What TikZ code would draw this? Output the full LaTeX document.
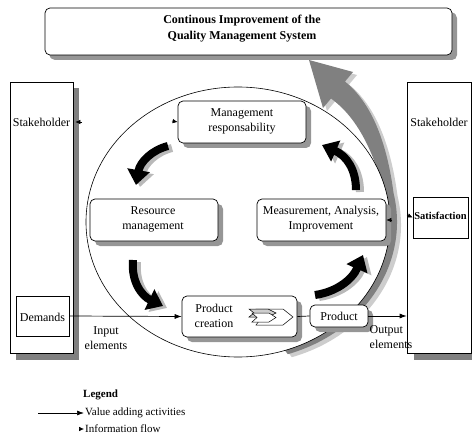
\documentclass[tikz,border=0pt]{standalone}
\usepackage{fontspec}
\setmainfont{Liberation Serif}
\usetikzlibrary{arrows.meta,shadows}

\definecolor{shade}{RGB}{150,150,150}
\definecolor{darkshade}{RGB}{128,128,128}
\definecolor{bandgray}{RGB}{128,128,128}
\definecolor{bandlight}{RGB}{205,205,205}
\definecolor{cycshade}{RGB}{185,185,185}

\begin{document}
\begin{tikzpicture}[x=1pt,y=-1pt,
  txt/.style={font=\fontsize{12}{15}\selectfont, align=center, inner sep=1pt},
  rbox/.style={draw, fill=white, rounded corners=5pt, line width=0.7pt, inner sep=0pt,
    general shadow={fill=shade, shadow xshift=5pt, shadow yshift=-5pt}},
  sbox/.style={draw, fill=white, line width=0.7pt, inner sep=0pt},
  value/.style={-{Latex[length=7pt,width=5pt]}, line width=0.7pt},
  info/.style={-{Latex[length=5pt,width=4.5pt]}, line width=0.6pt},
  cyc/.style={line width=8pt, -{Triangle[width=22pt,length=15pt]}},
  chev/.style={draw, line width=0.5pt, line join=miter},
  bandpath/.style={insert path={
    ({238+152*cos(72)},{222+135*sin(72)})
    arc[start angle=72, end angle=-25, x radius=152, y radius=135]
    .. controls (365,135) and (350,112) .. (331,98.5)
    -- (323,108) -- (309,60) -- (353,72) -- (345,81.5)
    .. controls (368,100) and (386,135) .. ({239+158*cos(-12)},{222+139*sin(-12)})
    arc[start angle=-12, end angle=72, x radius=158, y radius=139] -- cycle}}
]
\useasboundingbox (0,0) rectangle (472,436);

% stakeholder columns with their shadows
\fill[darkshade] (16,88) rectangle (79,360);
\node[sbox, minimum width=63pt, minimum height=271pt] (shL) at (41.5,217.5) {};
\fill[darkshade] (414,88) rectangle (478,360);
\node[sbox, minimum width=64pt, minimum height=271pt] (shR) at (439,217.5) {};

% gray band around the cycle turning into the improvement arrow
\fill[bandlight, shift={(4,3)}, bandpath];
\fill[bandgray, bandpath];

% the process cycle
\draw[line width=0.6pt] (238,222) ellipse [x radius=152, y radius=135];

% title box
\node[rbox, minimum width=407pt, minimum height=47pt,
  general shadow={fill=shade, shadow xshift=4pt, shadow yshift=-4pt}] (top) at (248.5,31.5) {};
\node[txt, font=\bfseries\fontsize{12}{15.5}\selectfont] (toptext) at (242,28.5)
  {Continous Improvement of the\\Quality Management System};

% process boxes
\node[rbox, minimum width=128pt, minimum height=42pt] (mgmt) at (242,122) {};
\node[txt] (mgmtt) at (242,121) {Management\\responsability};
\node[rbox, minimum width=128pt, minimum height=42pt] (res) at (154,220) {};
\node[txt] (rest) at (153,219.5) {Resource\\management};
\node[rbox, minimum width=129pt, minimum height=42pt] (mai) at (321.5,220) {};
\node[txt] (mait) at (321,219.5) {Measurement, Analysis,\\Improvement};
\node[rbox, minimum width=115pt, minimum height=41pt] (pc) at (239.5,316.5) {};
\node[txt] (pct) at (214,315.5) {Product\\creation};
\node[rbox, minimum width=58pt, minimum height=22pt] (prod) at (339,316) {};
\node[txt] (prodt) at (339,316) {Product};

% process symbol inside the product creation box
\filldraw[chev, fill=white] (256,309) -- (283,309) -- (293,317) -- (283,325) -- (256,325) -- (262,317) -- cycle;
\filldraw[chev, fill=bandlight] (249,309) -- (268,309) -- (276,313) -- (268,317) -- (249,317) -- (254,313) -- cycle;
\filldraw[chev, fill=white] (252,313) -- (269,313) -- (276,317.5) -- (269,322) -- (252,322) -- (257,317.5) -- cycle;

% stakeholder contents
\node[txt] (shLt) at (41.5,122) {Stakeholder};
\node[txt] (shRt) at (439,122) {Stakeholder};
\node[sbox, minimum width=53pt, minimum height=40pt] (dem) at (42.5,316) {};
\node[txt] (demt) at (42.5,317) {Demands};
\node[sbox, minimum width=55pt, minimum height=41pt] (sat) at (440.5,217.5) {};
\node[txt, font=\bfseries\fontsize{10.5}{12}\selectfont] (satt) at (440.5,215.5) {Satisfaction};

% cycle arrows with shadows
\begin{scope}[shift={(4,2)}, cycshade]
\draw[cyc] (168,146) .. controls (152,150) and (140,162) .. (136,185);
\draw[cyc] (133,260) .. controls (131,282) and (142,296) .. (163,306);
\draw[cyc] (315,295) .. controls (336,292) and (352,280) .. (363,255);
\draw[cyc] (356,190) .. controls (356,170) and (347,156) .. (322,145);
\end{scope}
\draw[cyc] (168,146) .. controls (152,150) and (140,162) .. (136,185);
\draw[cyc] (133,260) .. controls (131,282) and (142,296) .. (163,306);
\draw[cyc] (315,295) .. controls (336,292) and (352,280) .. (363,255);
\draw[cyc] (356,190) .. controls (356,170) and (347,156) .. (322,145);

% value adding flow
\draw[value] (dem.east) -- (pc.west);
\draw[line width=0.7pt] (pc.east) -- (prod.west);
\draw[value] (prod.east) -- (prod.east -| shR.west);
\node[txt] (inel) at (106,338) {Input\\elements};
\node[txt, align=left] (outel) at (391,337) {Output\\elements};

% information flow
\coordinate (i1) at (82,122);
\draw[info] (i1) -- ([xshift=2pt]shL.east |- i1);
\coordinate (i2) at (172,121);
\draw[info] (i2) -- (mgmt.west);
\coordinate (i3) at (392,220);
\draw[info] (i3) -- (mai.east);
\coordinate (i4) at (407,215);
\draw[info] (i4) -- (sat.west);

% legend
\node[anchor=west, inner sep=0pt, font=\bfseries\fontsize{11}{13}\selectfont] (leg) at (83,395) {Legend};
\node[anchor=west, inner sep=1pt, font=\fontsize{11}{13}\selectfont] (lval) at (84,413) {Value adding activities};
\node[anchor=west, inner sep=1pt, font=\fontsize{11}{13}\selectfont] (linf) at (84,429) {Information flow};
\coordinate (lv0) at (38,413);
\draw[value] (lv0) -- (lval.west);
\coordinate (li0) at (79,429);
\draw[info] (li0) -- (linf.west);
\end{tikzpicture}
\end{document}
